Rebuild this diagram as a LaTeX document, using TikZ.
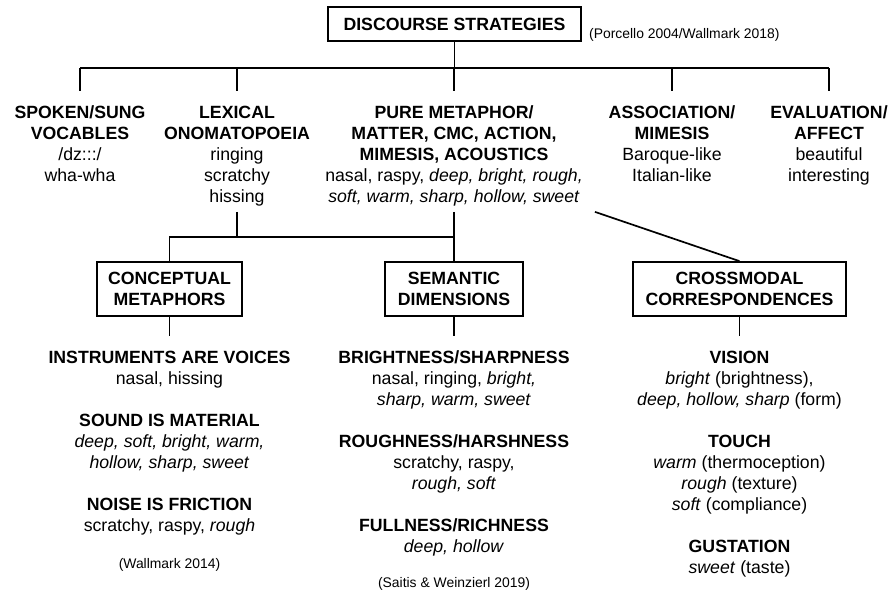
\documentclass[tikz,border=0pt]{standalone}
\usepackage{fontspec}
\setmainfont{Liberation Sans}
\begin{document}
\begin{tikzpicture}[x=1pt,y=-1pt,
  every node/.style={inner sep=0pt, font=\fontsize{17.7}{21}\selectfont, align=center},
  box/.style={draw, line width=1.7pt, font=\fontsize{17.7}{21}\selectfont\bfseries},
  col/.style={anchor=base},
  cite/.style={font=\fontsize{13.9}{16}\selectfont},
  conn/.style={line width=1.7pt}]
\useasboundingbox (0,0) rectangle (890,594);

% top (anchor=base is the baseline of the last line)
\node[box, minimum width=253pt, minimum height=34pt] (ds) at (454.5,24) {DISCOURSE STRATEGIES};
\node[cite, anchor=base west] (pc) at (589,38) {(Porcello 2004/Wallmark 2018)};

\node[col] (c1) at (80,181) {\textbf{SPOKEN/SUNG}\\\textbf{VOCABLES}\\/dz:::/\\wha-wha};
\node[col] (c2) at (237,202) {\textbf{LEXICAL}\\\textbf{ONOMATOPOEIA}\\ringing\\scratchy\\hissing};
\node[col] (c3) at (454,202) {\textbf{PURE METAPHOR/}\\\textbf{MATTER, CMC, ACTION,}\\\textbf{MIMESIS, ACOUSTICS}\\nasal, raspy, \textit{deep, bright, rough,}\\\textit{soft, warm, sharp, hollow, sweet}};
\node[col] (c4) at (672,181) {\textbf{ASSOCIATION/}\\\textbf{MIMESIS}\\Baroque-like\\Italian-like};
\node[col] (c5) at (829,181) {\textbf{EVALUATION/}\\\textbf{AFFECT}\\beautiful\\interesting};

\coordinate (hL) at (80,68);
\coordinate (hR) at (829,68);
\draw[conn] (ds.south) -- (ds.south |- hL);
\draw[conn] (hL) -- (hR);
\foreach \c in {c1,c2,c3,c4,c5} \draw[conn] (\c.north |- hL) -- ([yshift=14pt]\c.north);

% middle boxes
\node[box, minimum width=145pt, minimum height=54pt] (cm) at (169.5,289) {CONCEPTUAL\\METAPHORS};
\node[box, minimum width=138pt, minimum height=54pt] (sd) at (454,289) {SEMANTIC\\DIMENSIONS};
\node[box, minimum width=213pt, minimum height=54pt] (cc) at (739.5,289) {CROSSMODAL\\CORRESPONDENCES};

\coordinate (j) at (454,237);
\draw[conn] ([yshift=-6pt]c2.south) -- (c2.south |- j);
\draw[conn] (cm.north) -- (cm.north |- j) -- (j);
\draw[conn] ([yshift=-6pt]c3.south) -- (sd.north);
\draw[conn] ([xshift=12pt,yshift=-6pt]c3.south east) -- (cc.north);

% lower columns
\node[col] (l1) at (169.5,531) {\textbf{INSTRUMENTS ARE VOICES}\\nasal, hissing\\[21pt]\textbf{SOUND IS MATERIAL}\\\textit{deep, soft, bright, warm,}\\\textit{hollow, sharp, sweet}\\[21pt]\textbf{NOISE IS FRICTION}\\scratchy, raspy, \textit{rough}};
\node[col] (l2) at (454,552) {\textbf{BRIGHTNESS/SHARPNESS}\\nasal, ringing, \textit{bright,}\\\textit{sharp, warm, sweet}\\[21pt]\textbf{ROUGHNESS/HARSHNESS}\\scratchy, raspy,\\\textit{rough, soft}\\[21pt]\textbf{FULLNESS/RICHNESS}\\\textit{deep, hollow}};
\node[col] (l3) at (739.5,573) {\textbf{VISION}\\\textit{bright} (brightness),\\\textit{deep, hollow, sharp} (form)\\[21pt]\textbf{TOUCH}\\\textit{warm} (thermoception)\\\textit{rough} (texture)\\\textit{soft} (compliance)\\[21pt]\textbf{GUSTATION}\\\textit{sweet} (taste)};

\draw[conn] (cm.south) -- ([yshift=14pt]l1.north);
\draw[conn] (sd.south) -- ([yshift=14pt]l2.north);
\draw[conn] (cc.south) -- ([yshift=14pt]l3.north);

\node[cite, anchor=base] (w14) at (169.5,568) {(Wallmark 2014)};
\node[cite, anchor=base] (sw19) at (454,587) {(Saitis \& Weinzierl 2019)};
\end{tikzpicture}
\end{document}
